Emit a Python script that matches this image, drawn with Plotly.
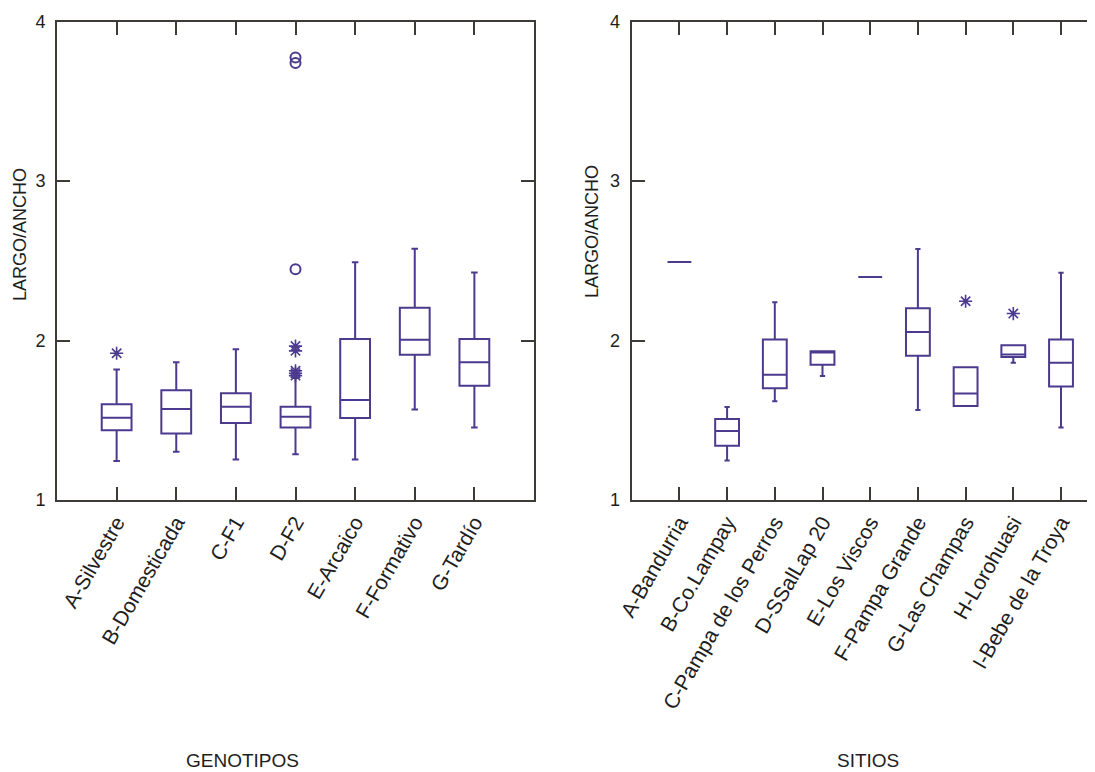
import plotly.graph_objects as go

# ---------------- data: left panel (GENOTIPOS) ----------------
gen_cats = ["A-Silvestre", "B-Domesticada", "C-F1", "D-F2", "E-Arcaico", "F-Formativo", "G-Tardío"]
gen_low = [1.245, 1.302, 1.254, 1.287, 1.254, 1.568, 1.455]
gen_q1 = [1.438, 1.417, 1.482, 1.455, 1.514, 1.910, 1.717]
gen_med = [1.515, 1.570, 1.585, 1.522, 1.627, 2.004, 1.864]
gen_q3 = [1.600, 1.688, 1.669, 1.585, 2.010, 2.205, 2.010]
gen_up = [1.818, 1.864, 1.945, 1.765, 2.490, 2.575, 2.426]

gen_star_x = ["A-Silvestre", "D-F2", "D-F2", "D-F2", "D-F2", "D-F2"]
gen_star_y = [1.920, 1.780, 1.795, 1.810, 1.935, 1.965]
gen_circ_x = ["D-F2", "D-F2", "D-F2"]
gen_circ_y = [2.446, 3.740, 3.775]

# ---------------- data: right panel (SITIOS) ----------------
sit_cats = ["A-Bandurria", "B-Co.Lampay", "C-Pampa de los Perros", "D-SSalLap 20", "E-Los Viscos",
            "F-Pampa Grande", "G-Las Champas", "H-Lorohuasi", "I-Bebe de la Troya"]
sit_low = [2.492, 1.248, 1.619, 1.777, 2.398, 1.564, 1.590, 1.860, 1.454]
sit_q1 = [2.492, 1.340, 1.700, 1.848, 2.398, 1.904, 1.590, 1.896, 1.712]
sit_med = [2.492, 1.433, 1.785, 1.925, 2.398, 2.054, 1.667, 1.912, 1.860]
sit_q3 = [2.492, 1.508, 2.006, 1.933, 2.398, 2.202, 1.833, 1.971, 2.006]
sit_up = [2.492, 1.583, 2.240, 1.933, 2.398, 2.573, 1.833, 1.971, 2.425]

sit_star_x = ["G-Las Champas", "H-Lorohuasi"]
sit_star_y = [2.246, 2.169]

y_ticks = [1, 2, 3, 4]

# ---------------- styles ----------------
BOX = "#4b3a8e"
FRAME = "#3e3b37"
TXT = "#1e1e1e"
FONT = "Liberation Sans, Arial, sans-serif"
OFF = 8                      # page body margin
W, H = 1095 - OFF, 772 - OFF

fig = go.Figure()


def add_boxes(cats, low, q1, med, q3, up, xa, ya):
    fig.add_trace(go.Box(
        x=cats, lowerfence=low, q1=q1, median=med, q3=q3, upperfence=up,
        width=0.5, whiskerwidth=0.22, fillcolor="rgba(0,0,0,0)",
        line=dict(color=BOX, width=2), boxpoints=False, showlegend=False,
        hoverinfo="skip", xaxis=xa, yaxis=ya))


add_boxes(gen_cats, gen_low, gen_q1, gen_med, gen_q3, gen_up, "x", "y")
add_boxes(sit_cats, sit_low, sit_q1, sit_med, sit_q3, sit_up, "x2", "y2")

star = dict(symbol="asterisk-open", size=11, color=BOX, line=dict(color=BOX, width=1.6))
circ = dict(symbol="circle-open", size=10, color=BOX, line=dict(color=BOX, width=2))
fig.add_trace(go.Scatter(x=gen_star_x, y=gen_star_y, mode="markers", marker=star,
                         showlegend=False, xaxis="x", yaxis="y"))
fig.add_trace(go.Scatter(x=gen_circ_x, y=gen_circ_y, mode="markers", marker=circ,
                         showlegend=False, xaxis="x", yaxis="y"))
fig.add_trace(go.Scatter(x=sit_star_x, y=sit_star_y, mode="markers", marker=star,
                         showlegend=False, xaxis="x2", yaxis="y2"))


def px(v):
    return (v - OFF) / W


def py(v):
    return 1 - (v - OFF) / H


# pixel geometry (page coordinates) -> paper domains
L1, R1 = 57, 534
L2, R2 = 631.7, 1094
TOP, BOT = 21.5, 500
ydom = [py(BOT), py(TOP)]

xcommon = dict(type="category", showline=True, linewidth=2, linecolor=FRAME,
               ticks="inside", ticklen=13, tickwidth=2, tickcolor=FRAME, mirror="ticks",
               tickangle=-60, tickfont=dict(family=FONT, size=21, color=TXT),
               showgrid=False, zeroline=False, automargin=False)
ycommon = dict(range=[1, 4], tickvals=y_ticks, showline=True, linewidth=2, linecolor=FRAME,
               ticks="inside", ticklen=13, tickwidth=2, tickcolor=FRAME,
               tickfont=dict(family=FONT, size=18, color=TXT), showgrid=False,
               zeroline=False, ticklabelstandoff=6, automargin=False)

fig.update_layout(
    width=W, height=H, margin=dict(l=0, r=0, t=0, b=0, autoexpand=False),
    paper_bgcolor="white", plot_bgcolor="white",
    xaxis=dict(xcommon, domain=[px(L1), px(R1)], range=[-1, len(gen_cats)],
               categoryorder="array", categoryarray=gen_cats, anchor="y"),
    yaxis=dict(ycommon, domain=ydom, mirror="ticks", anchor="x"),
    xaxis2=dict(xcommon, domain=[px(L2), min(px(R2), 1.0)],
                range=[-1, -1 + (min(R2, OFF + W) - L2) / 47.7],
                categoryorder="array", categoryarray=sit_cats, anchor="y2"),
    yaxis2=dict(ycommon, domain=ydom, mirror=False, anchor="x2"),
    font=dict(family=FONT, color=TXT),
)

annos = [
    dict(text="LARGO/ANCHO", x=20, y=235, textangle=-90, size=18),
    dict(text="LARGO/ANCHO", x=592, y=232, textangle=-90, size=18),
    dict(text="GENOTIPOS", x=242, y=760, textangle=0, size=19),
    dict(text="SITIOS", x=868, y=760, textangle=0, size=19),
]
for a in annos:
    fig.add_annotation(text=a["text"], x=px(a["x"]), y=py(a["y"]), xref="paper", yref="paper",
                       xanchor="center", yanchor="middle", textangle=a["textangle"],
                       showarrow=False, font=dict(family=FONT, size=a["size"], color=TXT))

fig.write_html("out.html")
